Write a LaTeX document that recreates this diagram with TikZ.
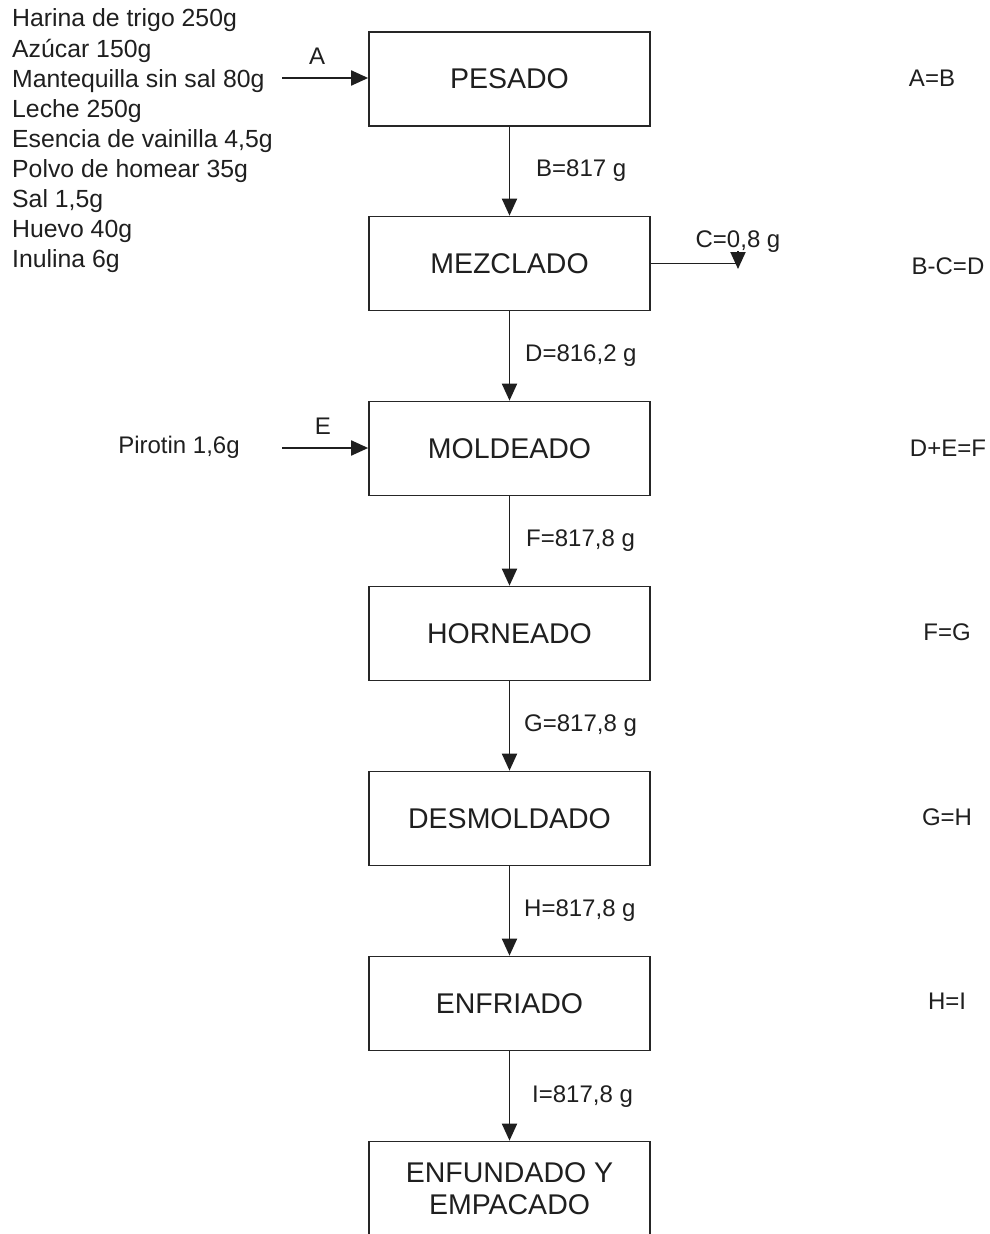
\documentclass[tikz,border=0pt]{standalone}
\usepackage{fontspec}
\setmainfont{Liberation Sans}
\usetikzlibrary{arrows.meta}
\begin{document}
\begin{tikzpicture}[x=1pt,y=-1pt,
  stepbox/.style={draw=black!85,line width=1.7pt,minimum width=281pt,minimum height=94pt,inner sep=0pt,font=\fontsize{28.5}{35}\selectfont,text=black!88,align=center},
  lbl/.style={inner sep=0pt,font=\fontsize{24}{30}\selectfont,text=black!88},
  lst/.style={inner sep=0pt,font=\fontsize{24.8}{30}\selectfont,text=black!88},
  arr/.style={line width=1.9pt,draw=black!88,-{Triangle[length=17pt,width=15pt]}},
  ln/.style={line width=1.9pt,draw=black!88}]
\useasboundingbox (0,0) rectangle (990,1234);
\fill[white] (0,0) rectangle (990,1234);
% ingredient list
\foreach \t [count=\i] in {Harina de trigo 250g,Az\'ucar 150g,Mantequilla sin sal 80g,Leche 250g,Esencia de vainilla 4{,}5g,Polvo de homear 35g,Sal 1{,}5g,Huevo 40g,Inulina 6g}
  \node[lst,anchor=base west] (l\i) at (12,{27+30*(\i-1)}) {\t};
% boxes
\node[stepbox] (pes) at (509.5,79) {PESADO};
\node[stepbox] (mez) at (509.5,263.5) {MEZCLADO};
\node[stepbox] (mol) at (509.5,448.5) {MOLDEADO};
\node[stepbox] (hor) at (509.5,633.5) {HORNEADO};
\node[stepbox] (des) at (509.5,818.5) {DESMOLDADO};
\node[stepbox] (enf) at (509.5,1003.5) {ENFRIADO};
\node[stepbox] (emp) at (509.5,1188.5) {ENFUNDADO Y\\[-3pt]EMPACADO};
% main flow
\draw[arr] (pes) -- (mez);
\draw[arr] (mez) -- (mol);
\draw[arr] (mol) -- (hor);
\draw[arr] (hor) -- (des);
\draw[arr] (des) -- (enf);
\draw[arr] (enf) -- (emp);
% flow labels
\node[lbl,anchor=west] (lb) at (536,171) {B=817 g};
\node[lbl,anchor=west] (ld) at (525,356) {D=816,2 g};
\node[lbl,anchor=west] (lf) at (526,541) {F=817,8 g};
\node[lbl,anchor=west] (lg) at (524,726) {G=817,8 g};
\node[lbl,anchor=west] (lh) at (524,911) {H=817,8 g};
\node[lbl,anchor=west] (li) at (532,1097) {I=817,8 g};
% input A
\coordinate (a0) at (282,78);
\draw[arr] (a0) -- (pes.west |- a0);
\node[lbl] (la) at (317,56) {A};
% input E
\node[lbl] (pir) at (179,447) {Pirotin 1,6g};
\coordinate (e0) at (282,448);
\draw[arr] (e0) -- (mol.west |- e0);
\node[lbl] (le) at (323,426) {E};
% output C
\node[lbl] (lc) at (738,242) {C=0,8 g};
\coordinate (c1) at (738,263.5);
\coordinate (c0) at (738,251);
\coordinate (c2) at (738,269);
\draw[ln] (mez.east) -- (c1);
\draw[arr] (c0) -- (c2);
% balances
\node[lbl] (bal1) at (932,78) {A=B};
\node[lbl] (bal2) at (948,266) {B-C=D};
\node[lbl] (bal3) at (948,448) {D+E=F};
\node[lbl] (bal4) at (947,632) {F=G};
\node[lbl] (bal5) at (947,817) {G=H};
\node[lbl] (bal6) at (947,1001) {H=I};
\end{tikzpicture}
\end{document}
